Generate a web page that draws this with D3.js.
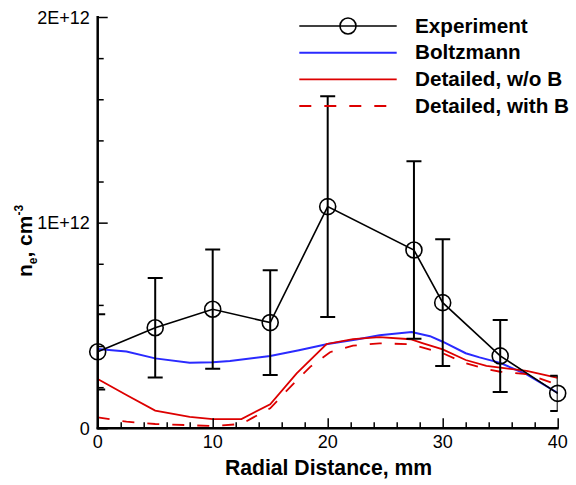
<!DOCTYPE html>
<html>
<head>
<meta charset="utf-8">
<script src="https://cdn.jsdelivr.net/npm/d3@7/dist/d3.min.js"></script>
<style>
  html, body { margin: 0; padding: 0; background: #fff; }
  svg { display: block; font-family: "Liberation Sans", Arial, sans-serif; }
</style>
</head>
<body>
<svg id="chart" width="576" height="485"></svg>
<script>
// Electron density (units of 1E+12 cm^-3) versus radial distance (mm)
const expRadius = [0, 5, 10, 15, 20, 27.5, 30, 35, 40];
const expDensity = [0.372, 0.489, 0.579, 0.514, 1.078, 0.867, 0.611, 0.352, 0.170];
const expError = [0.183, 0.242, 0.290, 0.255, 0.537, 0.432, 0.308, 0.175, 0.086];

const boltzRadius = [0, 2.5, 5, 8, 10, 11.5, 15, 17.5, 20, 22.5, 24.5, 27.3, 28.9, 30, 32, 33.2, 35, 37.3, 40];
const boltzDensity = [0.386, 0.373, 0.340, 0.319, 0.321, 0.327, 0.352, 0.380, 0.410, 0.432, 0.452, 0.468, 0.448, 0.421, 0.365, 0.345, 0.318, 0.262, 0.172];

const detRadius = [0, 2.5, 5, 8, 10, 12.5, 15, 17.3, 19.9, 22.2, 24.5, 27.2, 28.3, 30, 32, 33.8, 35, 37.3, 40];
const detDensity = [0.240, 0.162, 0.086, 0.056, 0.045, 0.045, 0.117, 0.267, 0.410, 0.434, 0.443, 0.433, 0.413, 0.384, 0.332, 0.303, 0.295, 0.279, 0.245];

const detBRadius = [0, 2.5, 5, 8, 10, 12.5, 13.5, 15, 16.4, 18.5, 20.2, 22.2, 24.5, 27.2, 30, 32, 33.8, 35, 37.3, 40];
const detBDensity = [0.053, 0.032, 0.021, 0.015, 0.011, 0.021, 0.052, 0.097, 0.181, 0.300, 0.370, 0.402, 0.413, 0.409, 0.365, 0.316, 0.288, 0.275, 0.264, 0.212];

const xTickValues = [0, 10, 20, 30, 40];
const xTickLabels = ["0", "10", "20", "30", "40"];
const yTickValues = [0, 1, 2];
const yTickLabels = ["0", "1E+12", "2E+12"];

const legendLabels = ["Experiment", "Boltzmann", "Detailed, w/o B", "Detailed, with B"];

const BLUE = "#2a2aff";
const RED = "#dd0000";
const FONT = "'Liberation Sans', Arial, sans-serif";

const svg = d3.select("#chart");

const x = d3.scaleLinear().domain([0, 40]).range([97.7, 557.7]);
const y = d3.scaleLinear().domain([0, 2]).range([428.3, 17]);

// clip region = plot frame
svg.append("defs").append("clipPath").attr("id", "plotClip")
  .append("rect")
  .attr("x", x(0)).attr("y", y(2))
  .attr("width", x(40) - x(0)).attr("height", y(0) - y(2));

const plot = svg.append("g").attr("clip-path", "url(#plotClip)");

const line = (xs, ys) => d3.line()
  .x((d, i) => x(xs[i]))
  .y((d, i) => y(ys[i]))
  .curve(d3.curveLinear)(xs);

// model curves
plot.append("path").attr("d", line(boltzRadius, boltzDensity))
  .attr("fill", "none").attr("stroke", BLUE).attr("stroke-width", 2);
plot.append("path").attr("d", line(detRadius, detDensity))
  .attr("fill", "none").attr("stroke", RED).attr("stroke-width", 1.8);
plot.append("path").attr("d", line(detBRadius, detBDensity))
  .attr("fill", "none").attr("stroke", RED).attr("stroke-width", 1.8)
  .attr("stroke-dasharray", "12,13");

// experiment: error bars
const capHalf = 7.5;
expRadius.forEach((r, i) => {
  const cx = x(r);
  const yt = y(expDensity[i] + expError[i]);
  const yb = y(expDensity[i] - expError[i]);
  const g = plot.append("g").attr("stroke", "#000").attr("stroke-width", 2);
  g.append("line").attr("x1", cx).attr("x2", cx).attr("y1", yt).attr("y2", yb);
  g.append("line").attr("x1", cx - capHalf).attr("x2", cx + capHalf).attr("y1", yt).attr("y2", yt);
  g.append("line").attr("x1", cx - capHalf).attr("x2", cx + capHalf).attr("y1", yb).attr("y2", yb);
});

// experiment: connecting line and markers
svg.append("path").attr("d", line(expRadius, expDensity))
  .attr("fill", "none").attr("stroke", "#000").attr("stroke-width", 1.6);
svg.selectAll("circle.exp").data(expRadius).enter().append("circle")
  .attr("class", "exp")
  .attr("cx", d => x(d))
  .attr("cy", (d, i) => y(expDensity[i]))
  .attr("r", 8)
  .attr("fill", "none").attr("stroke", "#000").attr("stroke-width", 1.6);

// axes (ticks point inward)
const xAxis = d3.axisBottom(x)
  .tickValues(d3.range(0, 41, 2))
  .tickSize(0)
  .tickFormat("");
const gx = svg.append("g").attr("transform", `translate(0,${y(0)})`).call(xAxis);
gx.select(".domain").remove();
gx.selectAll(".tick line")
  .attr("y2", d => xTickValues.includes(d) ? -10 : -6)
  .attr("stroke", "#000").attr("stroke-width", 1.5);

const yAxis = d3.axisLeft(y)
  .tickValues(d3.range(0, 2.001, 0.2).map(v => +v.toFixed(1)))
  .tickSize(0)
  .tickFormat("");
const gy = svg.append("g").attr("transform", `translate(${x(0)},0)`).call(yAxis);
gy.select(".domain").remove();
gy.selectAll(".tick line")
  .attr("x2", d => yTickValues.includes(d) ? 10 : 6)
  .attr("stroke", "#000").attr("stroke-width", 1.5);

// axis lines
svg.append("line").attr("x1", x(0)).attr("x2", x(0)).attr("y1", y(2) - 1).attr("y2", y(0) + 1)
  .attr("stroke", "#000").attr("stroke-width", 2.5);
svg.append("line").attr("x1", x(0) - 1).attr("x2", x(40) + 1).attr("y1", y(0)).attr("y2", y(0))
  .attr("stroke", "#000").attr("stroke-width", 2.5);

// tick labels
svg.selectAll("text.xl").data(xTickValues).enter().append("text")
  .attr("class", "xl")
  .attr("x", d => x(d)).attr("y", y(0) + 20)
  .attr("text-anchor", "middle")
  .attr("font-size", 18).attr("font-family", FONT)
  .text((d, i) => xTickLabels[i]);

svg.selectAll("text.yl").data(yTickValues).enter().append("text")
  .attr("class", "yl")
  .attr("x", x(0) - 8).attr("y", d => y(d) + 6.5)
  .attr("text-anchor", "end")
  .attr("font-size", 18).attr("font-family", FONT)
  .text((d, i) => yTickLabels[i]);

// axis titles
svg.append("text")
  .attr("x", 328.5).attr("y", 475)
  .attr("text-anchor", "middle")
  .attr("font-size", 21.2).attr("font-weight", "bold").attr("font-family", FONT)
  .text("Radial Distance, mm");

const yt = svg.append("text")
  .attr("transform", "translate(32,241) rotate(-90)")
  .attr("text-anchor", "middle")
  .attr("font-size", 21).attr("font-weight", "bold").attr("font-family", FONT);
yt.append("tspan").text("n");
yt.append("tspan").attr("font-size", 12).attr("dy", 5).text("e");
yt.append("tspan").attr("dy", -5).text(", cm");
yt.append("tspan").attr("font-size", 12).attr("dy", -9).text("-3");

// legend
const legX1 = 299.3, legX2 = 396.7, legText = 415;
const legRows = [26, 52.7, 79.3, 106];
const legStyles = [
  { stroke: "#000", dash: null, width: 1.6 },
  { stroke: BLUE, dash: null, width: 2 },
  { stroke: RED, dash: null, width: 1.8 },
  { stroke: RED, dash: "12,13", width: 1.8 }
];
const leg = svg.append("g");
legendLabels.forEach((lab, i) => {
  const ly = legRows[i];
  const s = legStyles[i];
  const l = leg.append("line")
    .attr("x1", legX1).attr("x2", legX2).attr("y1", ly).attr("y2", ly)
    .attr("stroke", s.stroke).attr("stroke-width", s.width);
  if (s.dash) l.attr("stroke-dasharray", s.dash);
  if (i === 0) {
    leg.append("circle").attr("cx", (legX1 + legX2) / 2).attr("cy", ly).attr("r", 8)
      .attr("fill", "none").attr("stroke", "#000").attr("stroke-width", 1.6);
  }
  leg.append("text")
    .attr("x", legText).attr("y", ly + 6.5)
    .attr("font-size", 20.7).attr("font-weight", "bold").attr("font-family", FONT)
    .text(lab);
});
</script>
</body>
</html>
